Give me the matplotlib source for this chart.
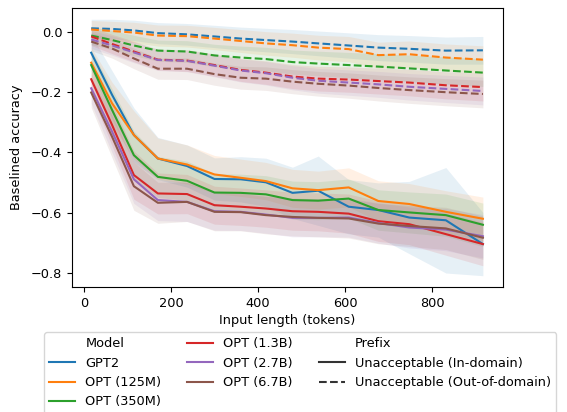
import matplotlib
matplotlib.use("Agg")
import matplotlib.pyplot as plt
from matplotlib.lines import Line2D

plt.rcParams["font.size"] = 9.3

# input lengths (tokens)
lengths = [17, 65, 115, 170, 237, 300, 360, 418, 479, 538, 608, 676, 747, 831, 916]

models = ["GPT2", "OPT (125M)", "OPT (350M)", "OPT (1.3B)", "OPT (2.7B)", "OPT (6.7B)"]
colors = ["tab:blue", "tab:orange", "tab:green", "tab:red", "tab:purple", "tab:brown"]

# unacceptable prefix, in-domain (solid)
gpt2_in = [-0.069, -0.209, -0.342, -0.420, -0.445, -0.488, -0.489, -0.499, -0.534, -0.527, -0.580, -0.591, -0.616, -0.625, -0.704]
opt125_in = [-0.102, -0.237, -0.342, -0.420, -0.440, -0.473, -0.484, -0.495, -0.519, -0.525, -0.516, -0.561, -0.571, -0.597, -0.620]
opt350_in = [-0.110, -0.259, -0.409, -0.481, -0.494, -0.533, -0.534, -0.539, -0.558, -0.560, -0.553, -0.591, -0.599, -0.608, -0.640]
opt13_in = [-0.157, -0.309, -0.475, -0.536, -0.538, -0.575, -0.580, -0.586, -0.595, -0.597, -0.603, -0.628, -0.638, -0.671, -0.704]
opt27_in = [-0.187, -0.331, -0.489, -0.558, -0.564, -0.595, -0.597, -0.606, -0.617, -0.617, -0.616, -0.634, -0.649, -0.656, -0.678]
opt67_in = [-0.201, -0.348, -0.512, -0.567, -0.564, -0.597, -0.598, -0.608, -0.614, -0.617, -0.619, -0.636, -0.644, -0.652, -0.683]

# unacceptable prefix, out-of-domain (dashed)
gpt2_out = [0.012, 0.010, 0.005, -0.004, -0.008, -0.015, -0.022, -0.027, -0.032, -0.038, -0.045, -0.052, -0.056, -0.062, -0.061]
opt125_out = [0.008, 0.003, -0.002, -0.012, -0.014, -0.022, -0.030, -0.038, -0.044, -0.052, -0.057, -0.077, -0.074, -0.085, -0.092]
opt350_out = [-0.012, -0.027, -0.045, -0.062, -0.065, -0.078, -0.085, -0.090, -0.100, -0.105, -0.110, -0.115, -0.121, -0.128, -0.135]
opt13_out = [-0.015, -0.040, -0.065, -0.092, -0.095, -0.110, -0.126, -0.135, -0.148, -0.155, -0.158, -0.163, -0.168, -0.177, -0.183]
opt27_out = [-0.025, -0.045, -0.068, -0.093, -0.096, -0.112, -0.128, -0.137, -0.152, -0.162, -0.168, -0.174, -0.182, -0.189, -0.196]
opt67_out = [-0.032, -0.055, -0.088, -0.122, -0.122, -0.140, -0.152, -0.155, -0.165, -0.172, -0.178, -0.186, -0.193, -0.200, -0.206]

# confidence band half widths
ci_in = [0.05, 0.07, 0.08, 0.068, 0.065, 0.063, 0.062, 0.062, 0.063, 0.063, 0.065, 0.067, 0.068, 0.07, 0.072]
ci_in_gpt2 = [0.06, 0.08, 0.09, 0.07, 0.07, 0.07, 0.075, 0.08, 0.085, 0.115, 0.09, 0.09, 0.12, 0.175, 0.105]
ci_out = [0.03, 0.032, 0.034, 0.035, 0.036, 0.037, 0.038, 0.039, 0.04, 0.041, 0.042, 0.043, 0.044, 0.045, 0.046]

in_domain = [gpt2_in, opt125_in, opt350_in, opt13_in, opt27_in, opt67_in]
out_domain = [gpt2_out, opt125_out, opt350_out, opt13_out, opt27_out, opt67_out]

fig = plt.figure(figsize=(5.67, 4.12), dpi=100)
ax = fig.add_axes([0.127, 0.303, 0.76, 0.678])

for i, (name, c) in enumerate(zip(models, colors)):
    ci = ci_in_gpt2 if i == 0 else ci_in
    y = in_domain[i]
    ax.fill_between(lengths, [v - e for v, e in zip(y, ci)], [v + e for v, e in zip(y, ci)],
                    color=c, alpha=0.11, linewidth=0)
    y2 = out_domain[i]
    ax.fill_between(lengths, [v - e for v, e in zip(y2, ci_out)], [v + e for v, e in zip(y2, ci_out)],
                    color=c, alpha=0.11, linewidth=0)

for i, (name, c) in enumerate(zip(models, colors)):
    ax.plot(lengths, in_domain[i], color=c, lw=1.5)
    ax.plot(lengths, out_domain[i], color=c, lw=1.5, ls="--")

ax.set_xlim(-27, 962)
ax.set_ylim(-0.847, 0.08)
ax.set_xticks([0, 200, 400, 600, 800])
ax.set_yticks([-0.8, -0.6, -0.4, -0.2, 0.0])
ax.set_xlabel("Input length (tokens)", labelpad=3)
ax.set_ylabel("Baselined accuracy", labelpad=6)

blank = Line2D([], [], color="none")
handles = [blank] + [Line2D([], [], color=c, lw=1.5) for c in colors] + [
    blank,
    Line2D([], [], color=".2", lw=1.5),
    Line2D([], [], color=".2", lw=1.5, ls="--"),
]
labels = ["Model"] + models + ["Prefix", "Unacceptable (In-domain)", "Unacceptable (Out-of-domain)"]
fig.legend(handles, labels, ncol=3, loc="upper left",
           bbox_to_anchor=(37.5 / 567, 1 - 325.5 / 412))

fig.savefig("out.png", dpi=100)
